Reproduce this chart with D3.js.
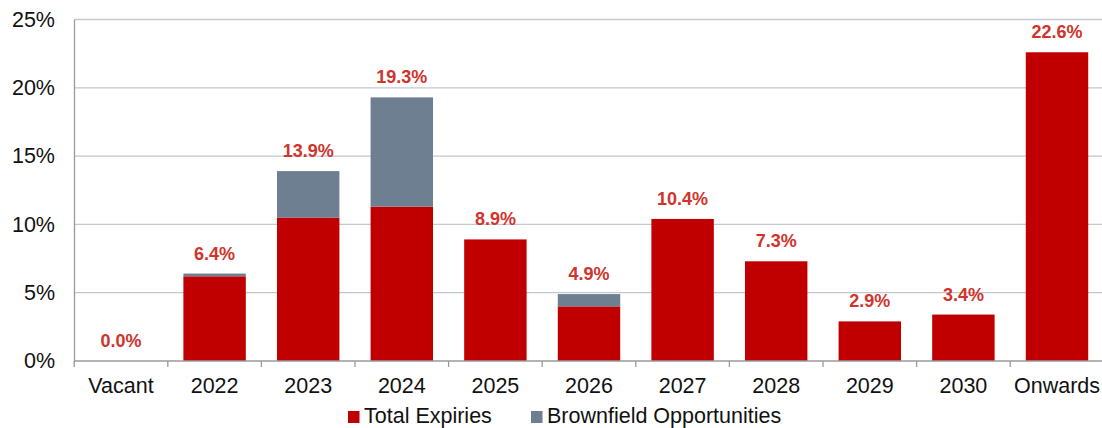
<!DOCTYPE html>
<html><head><meta charset="utf-8">
<script src="https://cdn.jsdelivr.net/npm/d3@7"></script>
<style>body{margin:0;background:#fff}svg{display:block}text{font-family:"Liberation Sans",Arial,sans-serif}</style>
</head><body><svg id="c" width="1102" height="428"></svg>
<script>
const categories = ["Vacant","2022","2023","2024","2025","2026","2027","2028","2029","2030","Onwards"];
const totalExpiries = [0.0, 6.2, 10.5, 11.3, 8.9, 4.0, 10.4, 7.3, 2.9, 3.4, 22.6];
const brownfield = [0.0, 0.2, 3.4, 8.0, 0.0, 0.9, 0.0, 0.0, 0.0, 0.0, 0.0];
const labels = ["0.0%","6.4%","13.9%","19.3%","8.9%","4.9%","10.4%","7.3%","2.9%","3.4%","22.6%"];
const yTicks = [0,5,10,15,20,25];
const seriesNames = ["Total Expiries","Brownfield Opportunities"];
const colors = ["#c00000","#6d7f90"];

const svg = d3.select("#c");
const x = d3.scaleBand().domain(categories).range([74.2,1103.8]).paddingInner(0.333).paddingOuter(0.1665);
const y = d3.scaleLinear().domain([0,25]).range([361,19.5]);

svg.append("g").selectAll("line").data(yTicks.filter(d=>d>0)).join("line")
  .attr("x1",74).attr("x2",1102).attr("y1",d=>y(d)).attr("y2",d=>y(d))
  .attr("stroke","#c3c8d0").attr("stroke-width",1.3);

const stacked = d3.stack().keys([0,1]).value((d,k)=>d[k])(categories.map((c,i)=>[totalExpiries[i],brownfield[i]]));
stacked.forEach((s,k)=>{
  svg.append("g").selectAll("rect").data(s).join("rect")
    .attr("x",(d,i)=>x(categories[i])).attr("width",x.bandwidth())
    .attr("y",d=>y(d[1])).attr("height",d=>Math.max(0,y(d[0])-y(d[1])))
    .attr("fill",colors[k]);
});

const yAxis = d3.axisLeft(y).tickValues(yTicks).tickFormat(d=>d+"%").tickSize(0).tickPadding(19);
const ya = svg.append("g").attr("transform","translate(74,0)").call(yAxis);
ya.select(".domain").attr("stroke","#9a9a9a").attr("stroke-width",1.3);
ya.selectAll("text").attr("font-size",21.5).attr("fill","#111").attr("font-family","'Liberation Sans',Arial,sans-serif");

const bx = svg.append("g").attr("transform","translate(0,361)");
bx.append("line").attr("x1",74).attr("x2",1102).attr("stroke","#9a9a9a").attr("stroke-width",1.3);
const step = x.step();
bx.selectAll("line.t").data(d3.range(categories.length+1)).join("line").attr("class","t")
  .attr("x1",i=>74.2+i*step).attr("x2",i=>74.2+i*step).attr("y1",0).attr("y2",6)
  .attr("stroke","#9a9a9a").attr("stroke-width",1.3);
bx.selectAll("text").data(categories).join("text")
  .attr("x",d=>x(d)+x.bandwidth()/2).attr("y",32).attr("text-anchor","middle")
  .attr("font-size",21.5).attr("fill","#111").text(d=>d);

svg.append("g").selectAll("text").data(categories).join("text")
  .attr("x",d=>x(d)+x.bandwidth()/2)
  .attr("y",(d,i)=>y(totalExpiries[i]+brownfield[i])-14)
  .attr("text-anchor","middle").attr("font-size",18).attr("font-weight","bold")
  .attr("fill","#d0342c").text((d,i)=>labels[i]);

const lg = svg.append("g").attr("transform","translate(0,423)");
const lx = [348,531];
seriesNames.forEach((n,k)=>{
  lg.append("rect").attr("x",lx[k]).attr("y",-12).attr("width",11.5).attr("height",12).attr("fill",colors[k]);
  lg.append("text").attr("x",lx[k]+16).attr("y",0).attr("font-size",21.5).attr("fill","#111").text(n);
});
</script></body></html>
